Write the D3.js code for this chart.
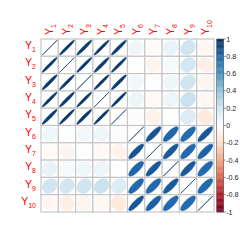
<!DOCTYPE html>
<html><head><meta charset="utf-8">
<script src="https://cdn.jsdelivr.net/npm/d3@7"></script>
<style>html,body{margin:0;padding:0;background:#fff}svg{display:block}</style>
</head><body>
<svg id="c" width="240" height="240"></svg>
<script>
const labels = ["1","2","3","4","5","6","7","8","9","10"];
const corr = [
  [1, .97, .96, .97, .96, .07, -.03, .10, .20, -.05],
  [.97, 1, .97, .96, .97, .01, -.06, .05, .19, -.09],
  [.96, .97, 1, .97, .96, .06, .01, .07, .20, -.06],
  [.97, .96, .97, 1, .97, .08, -.04, .08, .22, -.05],
  [.96, .97, .96, .97, 1, .02, -.07, .01, .15, -.12],
  [.07, .01, .06, .08, .02, 1, .87, .80, .78, .86],
  [-.03, -.06, .01, -.04, -.07, .87, 1, .85, .79, .82],
  [.10, .05, .07, .08, .01, .80, .85, 1, .84, .79],
  [.20, .19, .20, .22, .15, .78, .79, .84, 1, .78],
  [-.05, -.09, -.06, -.05, -.12, .86, .82, .79, .78, 1]
];
const legendTicks = [1, 0.8, 0.6, 0.4, 0.2, 0, -0.2, -0.4, -0.6, -0.8, -1];
const paletteColors = ["#67001F","#B2182B","#D6604D","#F4A582","#FDDBC7","#FFFFFF","#D1E5F0","#92C5DE","#4393C3","#2166AC","#053061"];

const svg = d3.select("#c");
const gx0 = 41, gx1 = 214, gy0 = 39, gy1 = 212;
const n = labels.length;
const x = d3.scaleBand().domain(d3.range(n)).range([gx0, gx1]);
const y = d3.scaleBand().domain(d3.range(n)).range([gy0, gy1]);
const cw = x.bandwidth(), ch = y.bandwidth();
const color = d3.scaleLinear()
  .domain(d3.range(11).map(i => -1 + i * 0.2))
  .range(paletteColors)
  .interpolate(d3.interpolateRgb);

// grid cells
const cells = [];
corr.forEach((row, i) => row.forEach((v, j) => cells.push({i, j, v})));
svg.append("g").selectAll("rect").data(cells).join("rect")
  .attr("x", d => x(d.j)).attr("y", d => y(d.i))
  .attr("width", cw).attr("height", ch)
  .attr("fill", "#fff").attr("stroke", "#c6c6c6").attr("stroke-width", 1.2);

// ellipses (corrplot style)
function ellPath(rho, cx, cy) {
  const a = Math.acos(Math.max(-1, Math.min(1, rho)));
  const pts = [];
  for (let t = 0; t < 99; t++) {
    const k = t / 98 * 2 * Math.PI;
    pts.push([cx + 0.85 * cw * Math.cos(k + a / 2) / 2, cy - 0.85 * ch * Math.cos(k - a / 2) / 2]);
  }
  return d3.line()(pts) + "Z";
}
svg.append("g").selectAll("path").data(cells).join("path")
  .attr("d", d => ellPath(d.v, x(d.j) + cw / 2, y(d.i) + ch / 2))
  .attr("fill", d => color(d.v))
  .attr("stroke", d => color(d.v))
  .attr("stroke-width", 0.7);

// left labels
const font = "'Liberation Sans', Arial, sans-serif";
const lt = svg.append("g").selectAll("text").data(labels).join("text")
  .attr("x", 36).attr("y", (d, i) => y(i) + ch / 2 + 1.5)
  .attr("text-anchor", "end").attr("fill", "#FF0000").style("font-family", font);
lt.append("tspan").attr("font-size", 10.5).text("Y");
lt.append("tspan").attr("font-size", 7).attr("dy", 3).text(d => d);

// top labels
const tt = svg.append("g").selectAll("text").data(labels).join("text")
  .attr("transform", (d, i) => `translate(${x(i) + cw / 2 + 3.5},35) rotate(-90)`)
  .attr("text-anchor", "start").attr("fill", "#FF0000").style("font-family", font);
tt.append("tspan").attr("font-size", 10.5).text("Y");
tt.append("tspan").attr("font-size", 7).attr("dy", 3).text(d => d);

// color legend
const bx0 = 216.7, bw = 7;
const ly = d3.scaleLinear().domain([-1, 1]).range([gy1, gy0]);
const bins = d3.range(200).map(i => -1 + i * 0.01);
svg.append("g").selectAll("rect").data(bins).join("rect")
  .attr("x", bx0).attr("width", bw)
  .attr("y", d => ly(d + 0.01)).attr("height", d => ly(d) - ly(d + 0.01) + 0.3)
  .attr("fill", d => color(d + 0.005));
svg.append("rect").attr("x", bx0).attr("y", gy0).attr("width", bw).attr("height", gy1 - gy0)
  .attr("fill", "none").attr("stroke", "#555").attr("stroke-width", 0.6);
const lg = svg.append("g");
lg.selectAll("line").data(legendTicks).join("line")
  .attr("x1", bx0 + bw).attr("x2", bx0 + bw + 2)
  .attr("y1", d => ly(d)).attr("y2", d => ly(d))
  .attr("stroke", "#333").attr("stroke-width", 0.6);
lg.selectAll("text").data(legendTicks).join("text")
  .attr("x", bx0 + bw + 2.5).attr("y", d => ly(d) + 2.5)
  .attr("font-size", 7.2).attr("fill", "#222").style("font-family", font)
  .text(d => d3.format("~g")(d).replace("−", "-"));
</script>
</body></html>
